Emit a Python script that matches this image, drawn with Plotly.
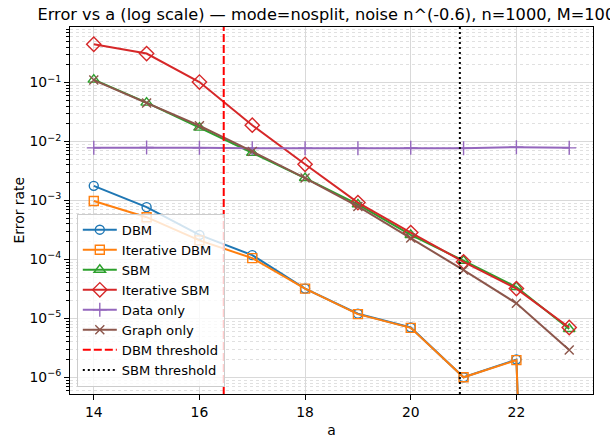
import plotly.graph_objects as go

a_vals = [14, 15, 16, 17, 18, 19, 20, 21, 22, 23]

dbm = [1.77e-3, 7.7e-4, 2.6e-4, 1.18e-4, 3.2e-5, 1.2e-5, 7.0e-6, 1.0e-6, 2.0e-6, 0.0]
iter_dbm = [9.8e-4, 5.2e-4, 2.1e-4, 1.05e-4, 3.2e-5, 1.18e-5, 6.9e-6, 1.0e-6, 1.96e-6, 0.0]
sbm = [0.112, 0.0457, 0.0172, 0.0064, 0.0024, 8.6e-4, 2.6e-4, 9.5e-5, 3.4e-5, 6.6e-6]
iter_sbm = [0.446, 0.31, 0.102, 0.0189, 0.0041, 9.2e-4, 2.85e-4, 9.1e-5, 3.2e-5, 7.0e-6]
data_only = [0.0078, 0.0079, 0.0078, 0.0077, 0.0077, 0.0077, 0.0078, 0.0077, 0.0080, 0.0078]
graph_only = [0.11, 0.045, 0.0185, 0.0068, 0.0024, 7.9e-4, 2.3e-4, 6.6e-5, 1.8e-5, 2.9e-6]

y_tick_vals = [1e-6, 1e-5, 1e-4, 1e-3, 1e-2, 1e-1]
y_tick_exps = ["\u22126", "\u22125", "\u22124", "\u22123", "\u22122", "\u22121"]

dbm_threshold = 16.46
sbm_threshold = 20.93

title_text = "Error vs a (log scale) \u2014 mode=nosplit, noise n^(-0.6), n=1000, M=1000"

# matplotlib clips non-positive values on log axes to a tiny number
def clip(v):
    return [x if x > 0 else 1e-30 for x in v]

series = [
    ("DBM", dbm, "#1f77b4", "circle-open", 9),
    ("Iterative DBM", iter_dbm, "#ff7f0e", "square-open", 9),
    ("SBM", sbm, "#2ca02c", "triangle-up-open", 10),
    ("Iterative SBM", iter_sbm, "#d62728", "diamond-open", 11),
    ("Data only", data_only, "#9467bd", "cross-thin-open", 10),
    ("Graph only", graph_only, "#8c564b", "x-thin-open", 9),
]

fig = go.Figure()
for name, vals, col, sym, sz in series:
    fig.add_trace(go.Scatter(
        x=a_vals, y=clip(vals), name=name, mode="lines+markers",
        line=dict(color=col, width=2),
        marker=dict(symbol=sym, size=sz, color=col, line=dict(color=col, width=1.4)),
    ))

fig.add_vline(x=dbm_threshold, line=dict(color="#ff0000", dash="8px,3px", width=2),
              showlegend=True, name="DBM threshold")
fig.add_vline(x=sbm_threshold, line=dict(color="#000000", dash="2px,3px", width=2),
              showlegend=True, name="SBM threshold")

font = "DejaVu Sans"
fig.update_layout(
    width=610, height=438,
    margin=dict(l=70, r=17, t=27, b=44),
    paper_bgcolor="white", plot_bgcolor="white",
    font=dict(family=font, size=13.9, color="black"),
    title=dict(text=title_text, x=331.5 / 610, xref="container", xanchor="center",
               y=1 - 14 / 438, yref="container", yanchor="middle",
               font=dict(family=font, size=16.2, color="black")),
    showlegend=True,
    legend=dict(x=0.013, y=0.02, xanchor="left", yanchor="bottom",
                bgcolor="rgba(255,255,255,0.8)", bordercolor="#cccccc", borderwidth=1,
                font=dict(family=font, size=13.1), tracegroupgap=0, itemwidth=34),
    annotations=[dict(text="Error rate", xref="paper", yref="paper",
                      x=-52 / 523, y=0.5, xanchor="center", yanchor="middle",
                      textangle=-90, showarrow=False,
                      font=dict(family=font, size=13.9, color="black"))],
)

fig.update_xaxes(
    title=dict(text="a", font=dict(size=13.9), standoff=8),
    automargin=False,
    range=[13.55, 23.45], tickmode="linear", tick0=14, dtick=2,
    showline=True, linecolor="black", linewidth=1, mirror=True,
    ticks="outside", ticklen=5, tickcolor="black",
    showgrid=True, gridcolor="#d9d9d9", gridwidth=1, zeroline=False,
)
fig.update_yaxes(
    type="log",
    automargin=False,
    range=[-6.283, -0.058],
    tickmode="array", tickvals=y_tick_vals,
    ticktext=["10<sup><span style='font-size:9.5px'>%s</span></sup>" % e for e in y_tick_exps],
    tickfont=dict(size=13.9),
    showline=True, linecolor="black", linewidth=1, mirror=True,
    ticks="outside", ticklen=5, tickcolor="black",
    showgrid=True, gridcolor="#d9d9d9", gridwidth=1, zeroline=False,
    minor=dict(ticks="outside", ticklen=3, tickcolor="black", dtick="D1",
               showgrid=True, gridcolor="#e0e0e0", griddash="dot", gridwidth=1),
)

fig.write_html("out.html")
